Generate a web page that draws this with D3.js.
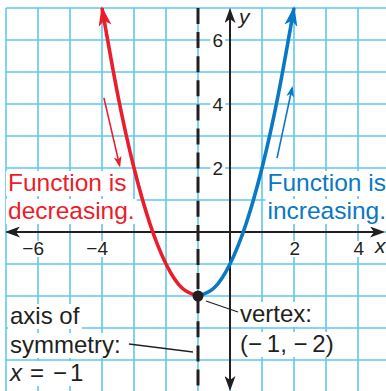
<!doctype html>
<html>
  <head>
    <meta charset="UTF-8">
    <title>parabola</title>
    <script src="https://cdn.jsdelivr.net/npm/d3@7"></script>
    <style>
      body { margin: 0; background: #fff; }
      svg { display: block; }
      text { font-family: "Liberation Sans", Arial, sans-serif; }
    </style>
  </head>
  <body>
    <svg id="chart" width="386" height="391"></svg>
    <script>
      // values
      const gridX = [-7, -6, -5, -4, -3, -2, -1, 0, 1, 2, 3, 4];
      const gridY = [7, 6, 5, 4, 3, 2, 1, 0, -1, -2, -3, -4, -5];
      const xTicks = [-6, -4, 2, 4];
      const yTicks = [2, 4, 6];
      const vertex = [-1, -2];
      const leftBranch = [[-1, -2], [-1.5, -1.75], [-2, -1], [-2.5, 0.25], [-3, 2], [-3.5, 4.25], [-4, 7]];
      const rightBranch = [[-1, -2], [-0.5, -1.75], [0, -1], [0.5, 0.25], [1, 2], [1.5, 4.25], [2, 7]];
      const decArrow = [[-3.94, 4.19], [-3.45, 2.08]];
      const incArrow = [[1.47, 2.31], [1.94, 4.5]];

      const gridColor = "#5ec8ef";
      const red = "#ec1c2a";
      const blue = "#0a78c2";
      const ink = "#231f20";

      const svg = d3.select("#chart");
      const W = 386, H = 391;

      const x = d3.scaleLinear().domain([-7, 5]).range([6, 390]);
      const y = d3.scaleLinear().domain([7, -5]).range([8, 392]);

      // arrow markers
      const defs = svg.append("defs");
      function marker(id, color, len, half, notch) {
        defs.append("marker")
          .attr("id", id)
          .attr("markerUnits", "userSpaceOnUse")
          .attr("viewBox", `${-len} ${-half} ${len + 2} ${half * 2}`)
          .attr("refX", -2).attr("refY", 0)
          .attr("markerWidth", len + 2).attr("markerHeight", half * 2)
          .attr("orient", "auto")
          .append("path")
            .attr("d", `M0,0 L${-len},${-half} L${-len + notch},0 L${-len},${half} Z`)
            .attr("fill", color);
      }
      marker("ax", ink, 15, 5.5, 4);
      marker("redHead", red, 20, 6.5, 5);
      marker("blueHead", blue, 20, 6.5, 5);
      marker("redSmall", red, 11, 4, 3);
      marker("blueSmall", blue, 11, 4, 3);

      // grid
      svg.append("g").selectAll("line").data(gridX).enter().append("line")
        .attr("x1", d => x(d)).attr("x2", d => x(d))
        .attr("y1", y(7)).attr("y2", H)
        .attr("stroke", gridColor).attr("stroke-width", 1.6);
      svg.append("g").selectAll("line").data(gridY).enter().append("line")
        .attr("x1", x(-7)).attr("x2", W)
        .attr("y1", d => y(d)).attr("y2", d => y(d))
        .attr("stroke", gridColor).attr("stroke-width", 1.6);

      const bgLayer = svg.append("g");
      const markLayer = svg.append("g");
      const textLayer = svg.append("g");

      // lines: array of {s, x, y} or {parts:[...], y}; one <text> per line
      function block(lines, opts) {
        lines.forEach(l => {
          const t = textLayer.append("text")
            .attr("y", l.y)
            .attr("font-size", opts.size || 20)
            .attr("fill", opts.color || ink)
            .attr("text-anchor", opts.anchor || "start")
            .attr("font-style", opts.italic ? "italic" : null);
          const spans = l.parts || [{ s: l.s, x: l.x }];
          spans.forEach(p => t.append("tspan")
            .attr("x", p.x)
            .attr("font-style", p.italic ? "italic" : null)
            .text(p.s));
          if (opts.bg) {
            const b = t.node().getBBox();
            const pad = opts.pad || 1;
            bgLayer.append("rect")
              .attr("x", b.x - pad).attr("y", b.y + (opts.trimTop || 0))
              .attr("width", b.width + pad * 2)
              .attr("height", b.height - (opts.trimTop || 0) - (opts.trimBot || 0))
              .attr("fill", "#fff");
          }
        });
      }

      // axes
      [[x(0), 389], [x(0), 10]].forEach(p => markLayer.append("line")
        .attr("x1", x(0)).attr("x2", p[0])
        .attr("y1", y(0)).attr("y2", p[1])
        .attr("stroke", ink).attr("stroke-width", 2)
        .attr("marker-end", "url(#ax)"));
      [7, 383].forEach(px => markLayer.append("line")
        .attr("x1", x(0)).attr("x2", px)
        .attr("y1", y(0)).attr("y2", y(0))
        .attr("stroke", ink).attr("stroke-width", 2)
        .attr("marker-end", "url(#ax)"));

      // axis of symmetry
      markLayer.append("line")
        .attr("x1", x(vertex[0])).attr("x2", x(vertex[0]))
        .attr("y1", y(7)).attr("y2", H)
        .attr("stroke", ink).attr("stroke-width", 3)
        .attr("stroke-dasharray", "16,8.1");

      // parabola
      const line = d3.line().x(d => x(d[0])).y(d => y(d[1])).curve(d3.curveNatural);
      markLayer.append("path").attr("d", line(leftBranch))
        .attr("fill", "none").attr("stroke", red).attr("stroke-width", 3.6)
        .attr("marker-end", "url(#redHead)");
      markLayer.append("path").attr("d", line(rightBranch))
        .attr("fill", "none").attr("stroke", blue).attr("stroke-width", 3.6)
        .attr("marker-end", "url(#blueHead)");

      // direction arrows
      const seg = d3.line().x(d => x(d[0])).y(d => y(d[1]));
      markLayer.append("path").attr("d", seg(decArrow))
        .attr("stroke", red).attr("stroke-width", 1.6).attr("fill", "none")
        .attr("marker-end", "url(#redSmall)");
      markLayer.append("path").attr("d", seg(incArrow))
        .attr("stroke", blue).attr("stroke-width", 1.6).attr("fill", "none")
        .attr("marker-end", "url(#blueSmall)");

      // vertex
      markLayer.append("circle")
        .attr("cx", x(vertex[0])).attr("cy", y(vertex[1])).attr("r", 5.5)
        .attr("fill", ink);
      markLayer.append("line")
        .attr("x1", 206).attr("y1", 301).attr("x2", 238).attr("y2", 312)
        .attr("stroke", ink).attr("stroke-width", 1.3);
      markLayer.append("line")
        .attr("x1", 129).attr("y1", 344).attr("x2", 193).attr("y2", 352)
        .attr("stroke", ink).attr("stroke-width", 1.3);

      // tick labels
      xTicks.forEach(v => {
        block([{ s: d3.format("")(v).replace("-", "\u2212\u2009"), x: x(v) + 6, y: y(0) + 23 }],
          { size: 19, anchor: "end", bg: true, pad: 1, trimTop: 3, trimBot: 2 });
      });
      yTicks.forEach(v => {
        block([{ s: String(v), x: x(0) - 7, y: y(v) + 7 }],
          { size: 19, anchor: "end", bg: true, pad: 2, trimTop: 2, trimBot: 2 });
      });
      block([{ s: "x", x: 375, y: 253 }], { size: 21, italic: true });
      block([{ s: "y", x: 239, y: 24 }], { size: 21, italic: true });

      // annotations
      block([{ s: "Function is", x: 8, y: 191 }, { s: "decreasing.", x: 8, y: 219 }],
        { size: 24.5, color: red, bg: true, pad: 2, trimTop: 2, trimBot: 0 });
      block([{ s: "Function is", x: 386, y: 191 }, { s: "increasing.", x: 386, y: 219 }],
        { size: 24.5, color: blue, anchor: "end", bg: true, pad: 2, trimTop: 2, trimBot: 0 });
      const t3 = { size: 24, bg: true, pad: 2, trimTop: 2, trimBot: 0 };
      block([
        { s: "axis of", x: 10, y: 324 },
        { s: "symmetry:", x: 10, y: 353 },
        { y: 381, parts: [{ s: "x", x: 10, italic: true }, { s: "=", x: 30 }, { s: "\u2212", x: 53 }, { s: "1", x: 70 }] }
      ], t3);
      block([
        { s: "vertex:", x: 240, y: 322 },
        { s: "(\u2212\u20091, \u2212\u20092)", x: 240, y: 352 }
      ], t3);
    </script>
  </body>
</html>
